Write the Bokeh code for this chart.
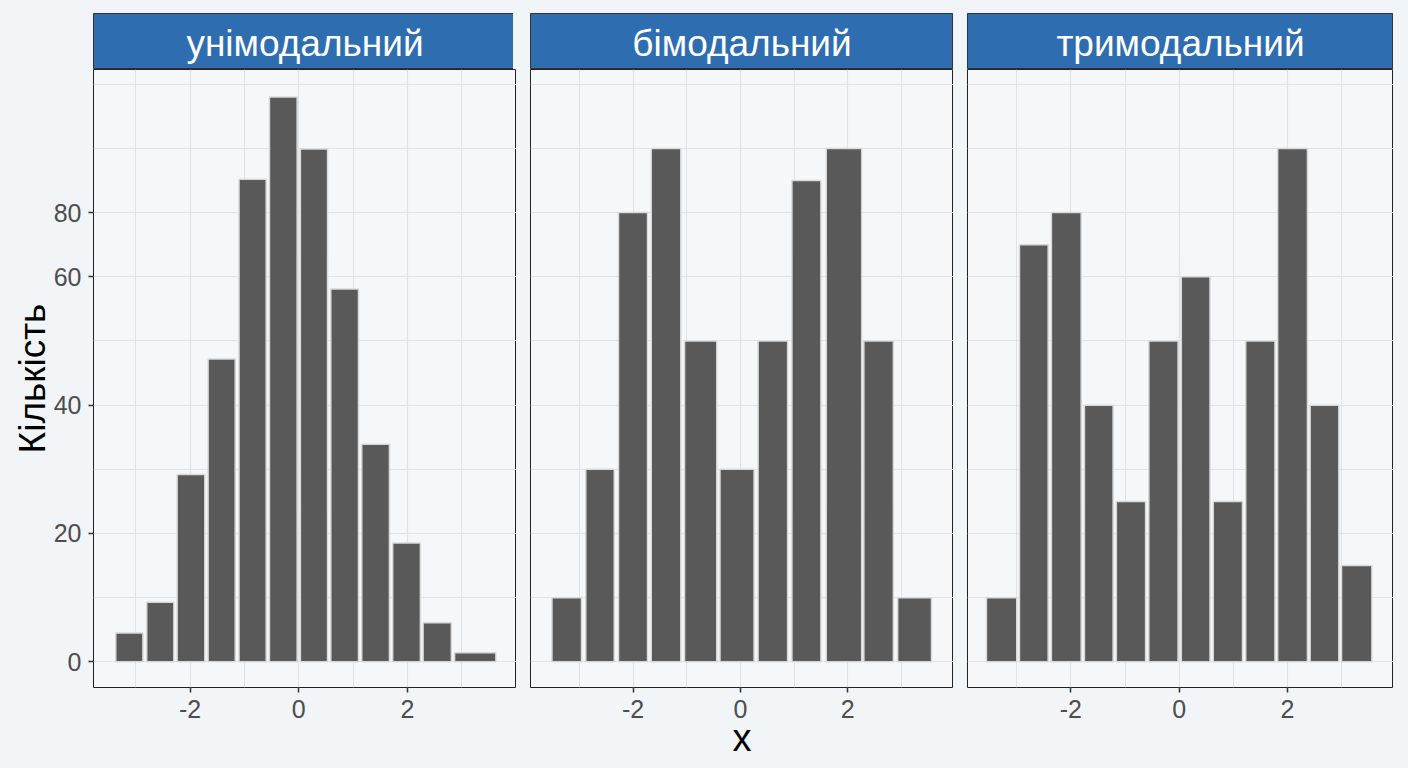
from bokeh.plotting import figure
from bokeh.layouts import row, column
from bokeh.models import FixedTicker, Range1d
from bokeh.core.properties import value
from bokeh.embed import file_html
from bokeh.resources import INLINE

# ---------------- data ----------------
panel_titles = ["унімодальний", "бімодальний", "тримодальний"]

uni_left = [-3.37, -2.80, -2.24, -1.67, -1.10, -0.54, 0.03, 0.59, 1.16, 1.73, 2.29, 2.87]
uni_right = [-2.87, -2.30, -1.73, -1.17, -0.60, -0.03, 0.53, 1.10, 1.67, 2.24, 2.81, 3.63]
uni_count = [4.5, 9.3, 29.2, 47.2, 75.2, 88.0, 79.9, 58.1, 33.9, 18.5, 6.1, 1.4]

bi_left = [-3.51, -2.88, -2.27, -1.66, -1.04, -0.38, 0.33, 0.96, 1.60, 2.30, 2.93]
bi_right = [-2.96, -2.35, -1.73, -1.11, -0.44, 0.255, 0.88, 1.50, 2.26, 2.85, 3.56]
bi_count = [10, 30, 70, 80, 50, 30, 50, 75, 80, 50, 10]

tri_left = [-3.56, -2.95, -2.36, -1.75, -1.16, -0.56, 0.04, 0.63, 1.23, 1.82, 2.42, 3.00]
tri_right = [-3.00, -2.42, -1.81, -1.22, -0.62, -0.02, 0.57, 1.17, 1.77, 2.37, 2.95, 3.56]
tri_count = [10, 65, 70, 40, 25, 50, 60, 25, 50, 80, 40, 15]

x_ticks = [-2, 0, 2]
x_tick_labels = ["-2", "0", "2"]
x_minor_ticks = [-3, -1, 1, 3]
y_ticks = [0, 20, 40, 60, 70]
y_tick_labels = ["0", "20", "40", "60", "80"]
y_minor_ticks = [10, 30, 50, 80, 90]

x_label = "x"
y_label = "Кількість"

# ---------------- style ----------------
PAGE_BG = "#F2F5F7"
PANEL_BG = "#F5F7F9"
STRIP_BG = "#2F6DB1"
BAR_FILL = "#595959"
BAR_LINE = "#D9D9D9"
GRID = "#DFE3E7"
FONT = "Liberation Sans"

panels = [
    (uni_left, uni_right, uni_count, (-3.78, 4.01), 423, 82),
    (bi_left, bi_right, bi_count, (-3.91, 3.97), 423, 14),
    (tri_left, tri_right, tri_count, (-3.91, 3.96), 426, 14),
]

cols = []
for i, (lefts, rights, counts, xr, fw, lb) in enumerate(panels):
    # strip header
    s = figure(frame_width=fw, frame_height=56, x_range=Range1d(0, 1), y_range=Range1d(0, 1),
               x_axis_type=None, y_axis_type=None, toolbar_location=None,
               output_backend="svg", min_border_left=lb, min_border_right=0,
               min_border_top=5, min_border_bottom=0)
    s.background_fill_color = STRIP_BG
    s.border_fill_color = PAGE_BG
    s.outline_line_color = "#333333"
    s.outline_line_width = 1
    s.grid.visible = False
    s.text(x=[0.5], y=[0.47], text=[panel_titles[i]], text_align="center",
           text_baseline="middle", text_font=value(FONT), text_font_size="37px",
           text_color="white")

    p = figure(frame_width=fw, frame_height=618, x_range=Range1d(*xr), y_range=Range1d(-4.0, 92.3),
               toolbar_location=None, output_backend="svg",
               y_axis_location="left" if i == 0 else None,
               min_border_left=lb, min_border_right=0, min_border_top=0,
               min_border_bottom=45)
    p.background_fill_color = PANEL_BG
    p.border_fill_color = PAGE_BG
    p.outline_line_color = "#222222"
    p.outline_line_width = 1

    p.quad(left=lefts, right=rights, bottom=0, top=counts,
           fill_color=BAR_FILL, line_color=BAR_LINE, line_width=1.5)

    # x axis
    xa = p.xaxis[0]
    xa.ticker = FixedTicker(ticks=x_ticks, minor_ticks=x_minor_ticks)
    xa.major_label_overrides = {t: l for t, l in zip(x_ticks, x_tick_labels)}
    xa.axis_line_color = None
    xa.major_tick_line_color = "#333333"
    xa.major_tick_line_width = 1.5
    xa.major_tick_in = 0
    xa.major_tick_out = 5
    xa.minor_tick_line_color = None
    xa.major_label_text_font = FONT
    xa.major_label_text_font_size = "25px"
    xa.major_label_text_color = "#4D4D4D"
    xa.major_label_standoff = 7
    if i == 1:
        xa.axis_label = x_label
        xa.axis_label_text_font = FONT
        xa.axis_label_text_font_size = "38px"
        xa.axis_label_text_font_style = "normal"
        xa.axis_label_text_color = "#000000"
        xa.axis_label_standoff = -4

    if i == 0:
        ya = p.yaxis[0]
        ya.ticker = FixedTicker(ticks=y_ticks, minor_ticks=y_minor_ticks)
        ya.major_label_overrides = {t: l for t, l in zip(y_ticks, y_tick_labels)}
        ya.axis_line_color = None
        ya.major_tick_line_color = "#333333"
        ya.major_tick_line_width = 1.5
        ya.major_tick_in = 0
        ya.major_tick_out = 5
        ya.minor_tick_line_color = None
        ya.major_label_text_font = FONT
        ya.major_label_text_font_size = "25px"
        ya.major_label_text_color = "#4D4D4D"
        ya.major_label_standoff = 7
        ya.axis_label = y_label
        ya.axis_label_text_font = FONT
        ya.axis_label_text_font_size = "37px"
        ya.axis_label_text_font_style = "normal"
        ya.axis_label_text_color = "#000000"
        ya.axis_label_standoff = -2

    p.xgrid.ticker = FixedTicker(ticks=x_ticks, minor_ticks=x_minor_ticks)
    p.ygrid.ticker = FixedTicker(ticks=y_ticks, minor_ticks=y_minor_ticks)
    for g in (p.xgrid, p.ygrid):
        g.grid_line_color = GRID
        g.grid_line_width = 1.2
        g.minor_grid_line_color = GRID
        g.minor_grid_line_width = 1.0

    cols.append(column(s, p, spacing=0))

layout = row(*cols, spacing=0)

html = file_html(layout, INLINE, title="Гістограми")
html = html.replace("</head>",
                    "<style>html,body{background:%s;}body{margin:8px;overflow:hidden;}</style></head>" % PAGE_BG, 1)
open("out.html", "w").write(html)
